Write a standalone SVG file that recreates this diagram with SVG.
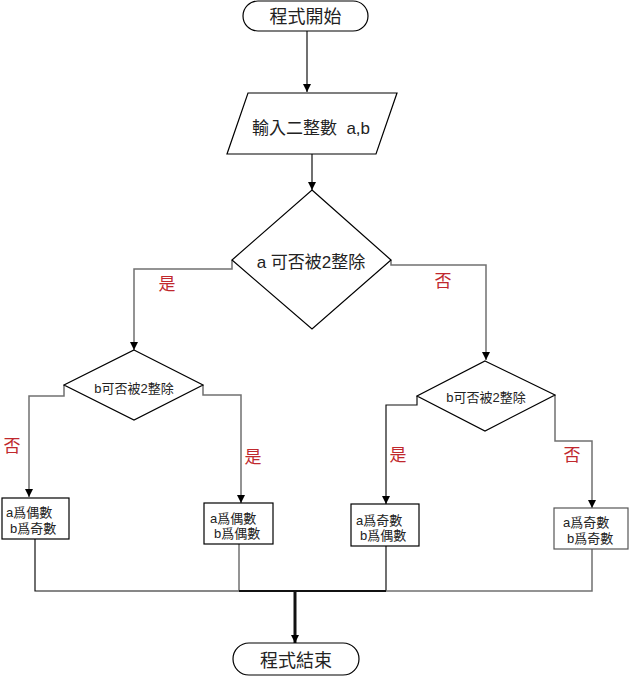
<svg xmlns="http://www.w3.org/2000/svg" width="630" height="676" viewBox="0 0 630 676">
<defs>
<marker id="ah" viewBox="0 0 8 10" refX="8" refY="5" markerWidth="8" markerHeight="10" markerUnits="userSpaceOnUse" orient="auto">
<path d="M0,1 L8,5 L0,9 Z" fill="#000"/>
</marker>
</defs>
<style>
text{font-family:"Liberation Sans","Noto Sans CJK TC",sans-serif;fill:#222}
.shape{fill:#fff;stroke:#000;stroke-width:1.2}
.lbl{fill:#c0282d;font-size:17px;text-anchor:middle}
.big{font-size:17px;text-anchor:middle}
.sm{font-size:13px}
.smc{font-size:13px;text-anchor:middle}
.k{fill:none;stroke:#111;stroke-width:1.2}
.g{fill:none;stroke:#707070;stroke-width:1.5}
</style>
<g id="connectors">
<path class="k" d="M307,31 V92" marker-end="url(#ah)"/>
<path class="k" d="M312,154 V190" marker-end="url(#ah)"/>
<path class="g" d="M232,260 V269 H134 V350" marker-end="url(#ah)"/>
<path class="g" d="M391,260 V265 H486 V360" marker-end="url(#ah)"/>
<path class="g" d="M64,385 V396 H29 V497" marker-end="url(#ah)"/>
<path class="g" d="M203,385 V395 H241 V503" marker-end="url(#ah)"/>
<path class="k" d="M417,396 V405 H386 V504" marker-end="url(#ah)"/>
<path class="g" d="M555,395 V441 H592 V508" marker-end="url(#ah)"/>
<path class="k" d="M35,539 V591 H239"/>
<path class="g" d="M239,544 V591"/>
<path fill="none" stroke="#111" stroke-width="2" d="M239,591 H386"/>
<path class="k" d="M386,546 V591"/>
<path class="g" d="M386,591 H592 V549"/>
<path fill="none" stroke="#111" stroke-width="3" d="M295,591 V643" marker-end="url(#ah)"/>
<text class="lbl" x="167" y="290">是</text>
<text class="lbl" x="443" y="287">否</text>
<text class="lbl" x="12" y="452">否</text>
<text class="lbl" x="253" y="463">是</text>
<text class="lbl" x="398" y="461">是</text>
<text class="lbl" x="572" y="461">否</text>
</g>
<g id="start">
<rect class="shape" x="243" y="1" width="125" height="30" rx="15"/>
<text class="big" x="305.5" y="23" style="font-size:18px">程式開始</text>
</g>
<g id="input">
<polygon class="shape" points="248,93 397,93 376,154 227,154"/>
<text class="big" x="311" y="134" xml:space="preserve">輸入二整數  a,b</text>
</g>
<g id="decision-a">
<polygon class="shape" points="312,190 391,260 312,329 232,260"/>
<text class="big" x="311" y="268">a 可否被2整除</text>
</g>
<g id="decision-b-left">
<polygon class="shape" points="134,350 203,385 134,420 64,385"/>
<text class="smc" x="134" y="393">b可否被2整除</text>
</g>
<g id="decision-b-right">
<polygon class="shape" points="485,361 555,395 485,431 417,396"/>
<text class="smc" x="486" y="402">b可否被2整除</text>
</g>
<g id="box1">
<rect class="shape" x="2" y="498" width="67" height="41"/>
<text class="sm" x="6" y="517">a爲偶數</text>
<text class="sm" x="10" y="533">b爲奇數</text>
</g>
<g id="box2">
<rect class="shape" x="204" y="503" width="69" height="41"/>
<text class="sm" x="210" y="523">a爲偶數</text>
<text class="sm" x="214" y="538">b爲偶數</text>
</g>
<g id="box3">
<rect class="shape" x="351" y="504" width="68" height="42"/>
<text class="sm" x="356" y="525">a爲奇數</text>
<text class="sm" x="360" y="540">b爲偶數</text>
</g>
<g id="box4">
<rect class="shape" x="554" y="508" width="74" height="41" style="stroke:#555"/>
<text class="sm" x="563" y="527">a爲奇數</text>
<text class="sm" x="567" y="543">b爲奇數</text>
</g>
<g id="end">
<rect class="shape" x="233" y="643" width="126" height="32" rx="16"/>
<text class="big" x="296" y="667" style="font-size:18px">程式結束</text>
</g>
</svg>
